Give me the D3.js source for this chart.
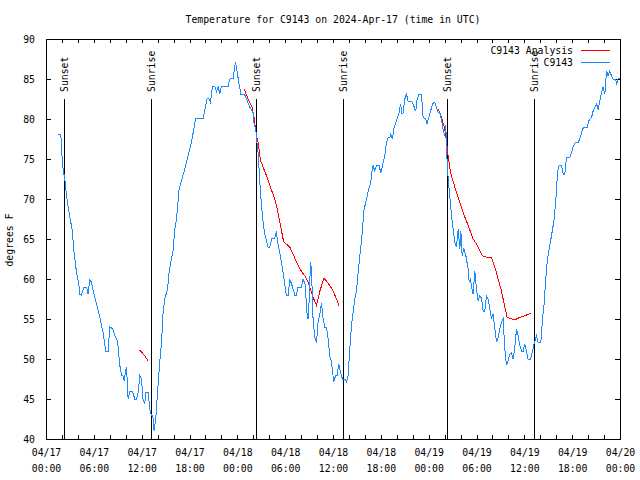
<!DOCTYPE html>
<html><head><meta charset="utf-8">
<script src="https://cdn.jsdelivr.net/npm/d3@7"></script>
<style>
html,body{margin:0;padding:0;background:#fff;}
text{font-family:"DejaVu Sans Mono",monospace;font-size:9.8px;fill:#000;}
</style>
</head><body>
<svg id="chart" width="640" height="480"></svg>
<script>
// ---- data (hours since 2024-04-17 00:00 UTC, degrees F) ----
const titleText = "Temperature for C9143 on 2024-Apr-17 (time in UTC)";
const yLabelText = "degrees F";
const seriesNames = ["C9143 Analysis", "C9143"];
const yTickValues = [40,45,50,55,60,65,70,75,80,85,90];

const stationHours = [
1.52,1.86,1.98,2.14,2.36,2.57,2.99,3.27,3.52,3.83,
4.11,4.24,4.45,4.78,5.08,5.28,5.49,5.71,5.91,6.33,
6.75,7.16,7.50,7.79,8.00,8.34,8.63,8.97,9.26,9.47,
9.63,9.80,9.97,10.10,10.30,10.51,10.85,11.14,11.35,11.55,
11.77,11.98,12.18,12.39,12.52,12.81,13.02,13.23,13.40,13.56,
13.77,13.99,14.27,14.49,14.69,14.90,15.24,15.44,15.65,15.94,
16.16,16.37,16.70,17.00,17.41,17.82,18.25,18.54,18.79,19.71,
20.01,20.21,20.42,20.63,20.89,21.17,21.39,21.59,21.80,22.01,
22.84,23.06,23.47,23.77,23.97,24.18,24.44,24.94,25.15,25.56,
25.98,26.10,26.32,26.40,26.61,26.82,27.03,27.23,27.45,27.66,
27.86,28.07,28.36,28.70,28.91,29.04,29.24,29.54,29.74,29.96,
30.17,30.37,30.58,30.79,31.00,31.21,31.42,31.62,32.05,32.25,
32.55,32.68,32.88,33.00,33.18,33.30,33.50,33.72,33.93,34.13,
34.35,34.56,34.76,34.97,35.19,35.39,35.60,35.81,36.10,36.31,
36.51,36.73,36.94,37.19,37.48,37.69,37.89,38.11,38.32,38.52,
38.73,38.95,39.15,39.36,39.58,39.70,39.86,40.20,40.49,40.74,
40.90,41.03,41.24,41.46,41.78,42.00,42.21,42.50,42.71,42.91,
43.13,43.25,43.46,43.67,43.84,44.04,44.25,44.47,44.67,44.79,
45.01,45.22,45.42,45.85,46.05,46.26,46.39,46.55,46.80,47.10,
47.30,47.64,47.80,48.14,48.48,48.77,48.98,49.18,49.40,49.61,
49.81,50.02,50.15,50.24,50.36,50.56,50.87,51.07,51.28,51.49,
51.70,51.91,52.04,52.20,52.42,52.67,52.95,53.08,53.25,53.38,
53.58,53.79,54.00,54.20,54.41,54.63,54.83,55.04,55.26,55.46,
55.67,55.88,56.08,56.30,56.51,56.71,56.92,57.13,57.34,57.55,
57.76,57.96,58.18,58.39,58.59,58.81,59.02,59.22,59.43,59.65,
59.85,60.06,60.27,60.47,60.77,61.02,61.23,61.53,61.73,62.07,
62.28,62.48,62.66,62.86,63.11,63.41,63.54,63.70,63.95,64.16,
64.36,64.67,64.87,65.08,65.29,65.70,65.92,66.12,66.42,66.75,
66.96,67.30,67.59,67.88,68.09,68.43,68.63,69.05,69.26,69.47,
69.68,69.88,70.10,70.31,70.51,70.72,70.93,71.14,71.48,71.56,
71.77,71.98
];
const stationTemps = [
78.1,78.1,75.8,73.75,72.5,70.4,67.7,66.25,63.3,60.8,
59.4,58.1,58,59,59,58.1,59.9,59.6,58.5,56.9,
55.2,53.3,51,51,54,53.8,52.9,52.3,49.2,48,
48,47.3,48.4,49,45,45.9,45.9,45,45,45.8,
47.9,47.5,44.8,44.5,45.8,45.8,43.75,42.9,42.9,41.0,
42.5,45.8,49.6,52.1,55.8,57.5,58.75,60.8,62.1,63.5,
66.25,67.5,71.25,72.3,73.75,75.4,77.1,78.75,80.1,80.1,
81.5,82.6,82.6,82.1,84.1,84.1,83.4,84.1,83.1,84.1,
84.1,85,85.1,87.1,85.9,84.6,83.1,83,82.5,81.5,
80.8,79.4,78.75,77.5,75.8,72.1,69.2,67.1,65.6,64.8,
64,64,65.1,65.1,66,64.6,63.75,62.1,60.8,59.2,
57.9,57.9,60,59.4,58.75,58,58,59,59,60,
59.2,56,55,57.1,62.1,61.25,55,52.7,52,54.6,
55.6,57,55,54,54,52.5,50.4,49.6,47.1,47.9,
47.9,49.4,48.3,47.5,47.5,47.1,47.9,51.25,54.2,55.8,
57.5,58.5,60.8,62.9,64.8,66.25,68.5,70,71.25,72.1,
73.5,74.2,73.5,74.2,74.2,73.25,74.2,75.4,77.1,77.7,
77.7,78.1,77.5,79,79.4,80,80.6,81.9,80.6,80.8,
82.5,83.1,82.2,82.2,81.9,81.25,81,82.5,83.1,83.1,
80.2,80,79.4,80.6,81.9,82.1,81.5,80.8,80.8,79.8,
78.75,77.9,79.2,76.25,73.75,71.25,67.9,66.25,64.6,64,
66.25,63.75,66,62.9,63.75,62.9,61.25,59.6,60,59,
58.1,61,58.75,57.3,57.9,57.6,56,56,57.9,57.5,
56.25,55,55.6,53.75,52.1,52.7,53.75,54.6,55,51.25,
49.2,49.8,50.6,50.8,50,51.5,53.75,52.9,51.7,51,
51,51.9,51,50,50,51,51.9,52.9,52.1,52.1,
55,56.9,59.6,62.1,63.75,65.4,66.25,67.1,69.8,73.3,
74.2,74.2,73.1,73.1,75.2,75.2,75.8,76.5,77.1,77.1,
77.5,78.75,79,79,79.8,80.2,81,81.9,81.25,82.3,
83.3,84,83.1,86,85.4,86,85.4,85,85,84.2,
85.1,85.1
];

// analysis series; null marks a gap
const analysisHours = [
11.77,12.3,12.81, null,
24.85,25.35,25.85,26.10,26.40,26.61,26.91,27.66,28.07,28.70,
28.91,29.33,29.74,29.87,30.58,31.00,31.42,31.84,32.46,32.88,
33.50,33.93,34.35,34.88,35.60,36.01,36.44,36.77, null,
49.18,49.61,50.02,50.24,50.44,50.74,51.49,52.32,52.95,53.58,
54.00,54.75,55.34,55.88,56.30,56.71,57.13,57.55,57.85,58.18,
58.81,59.43,60.06,60.81
];
const analysisTemps = [
51.1,50.5,49.8, null,
83.75,82.5,81.5,80.2,77.9,77.1,74.8,72.9,71.7,70,
69.2,67.1,65,64.6,64,63.1,62.1,61.25,60.4,59.6,
57.7,56.7,58.5,60.1,59.2,58.5,57.5,56.6, null,
81.25,80.2,78.75,77.1,75.4,73.3,70.8,68.3,66.7,65,
64.4,62.9,62.7,62.7,61.5,60,58.5,56.5,55.2,55.1,
54.9,55.2,55.4,55.75
];

const sunHours  = [2.32, 13.23, 26.40, 37.32, 50.36, 61.27];
const sunLabels = ["Sunset","Sunrise","Sunset","Sunrise","Sunset","Sunrise"];

// ---- drawing ----
const t0 = Date.UTC(2024,3,17,0,0);
const toDate = h => new Date(t0 + h*3600000);

const svg = d3.select("#chart");
svg.append("rect").attr("width",640).attr("height",480).attr("fill","#fff");

const x = d3.scaleUtc().domain([toDate(0), toDate(72)]).range([46, 620]);
const y = d3.scaleLinear().domain([40, 90]).range([439, 39]);

const stationData = stationHours.map((h,i)=>({t:toDate(h), v:stationTemps[i]}));
const analysisData = analysisHours.map((h,i)=>({t:h==null?null:toDate(h), v:analysisTemps[i]}));

const axisStyle = g => {
  g.selectAll("path.domain").attr("stroke","#000").attr("shape-rendering","crispEdges");
  g.selectAll(".tick line").attr("stroke","#000").attr("shape-rendering","crispEdges");
  g.selectAll("text").attr("fill","#000");
  g.attr("font-family",null).attr("font-size",null);
};

// bottom ticks (every 2h), inward
svg.append("g").attr("transform","translate(0,439)")
  .call(d3.axisBottom(x).ticks(d3.utcHour.every(2)).tickSize(-4).tickFormat(""))
  .call(axisStyle);
// top ticks
svg.append("g").attr("transform","translate(0,39)")
  .call(d3.axisTop(x).ticks(d3.utcHour.every(2)).tickSize(-4).tickFormat(""))
  .call(axisStyle);
// bottom labels every 6h
const fmtDay = d3.utcFormat("%m/%d"), fmtTime = d3.utcFormat("%H:%M");
const lbl = svg.append("g").attr("transform","translate(0,439)")
  .call(d3.axisBottom(x).ticks(d3.utcHour.every(6)).tickSize(0).tickFormat(""))
  .call(axisStyle);
lbl.select("path.domain").remove();
lbl.selectAll(".tick").each(function(d){
  const t = d3.select(this).select("text").attr("y",null).attr("dy",null).text(null);
  t.append("tspan").attr("x",0).attr("y",17).text(fmtDay(d));
  t.append("tspan").attr("x",0).attr("y",33).text(fmtTime(d));
});

// left/right y axes
svg.append("g").attr("transform","translate(46,0)")
  .call(d3.axisLeft(y).tickValues(yTickValues).tickSize(-5).tickPadding(11).tickFormat(d3.format("d")))
  .call(axisStyle)
  .selectAll("text").attr("dy","0.35em");
svg.append("g").attr("transform","translate(620,0)")
  .call(d3.axisRight(y).tickValues(yTickValues).tickSize(-5).tickFormat(""))
  .call(axisStyle);

// sunrise/sunset lines
const sun = svg.append("g");
sunHours.forEach((h,i)=>{
  const xs = Math.floor(x(toDate(h))) + 0.5;
  sun.append("line").attr("x1",xs).attr("x2",xs).attr("y1",99).attr("y2",439)
    .attr("stroke","#000").attr("shape-rendering","crispEdges");
  sun.append("text").attr("transform",`translate(${xs},92) rotate(-90)`)
    .attr("text-anchor","start").attr("dy","0.35em").text(sunLabels[i]);
});

// lines
const line = d3.line().defined(d=>d.t!=null && d.v!=null).x(d=>x(d.t)).y(d=>y(d.v));
svg.append("path").datum(analysisData).attr("d",line)
  .attr("fill","none").attr("stroke","#ff0000").attr("stroke-width",1)
  .attr("shape-rendering","crispEdges");
svg.append("path").datum(stationData).attr("d",line)
  .attr("fill","none").attr("stroke","#1a8cff").attr("stroke-width",1)
  .attr("shape-rendering","crispEdges");

// title and y label
svg.append("text").attr("x",333).attr("y",23).attr("text-anchor","middle").text(titleText);
svg.append("text").attr("transform","translate(10,240) rotate(-90)")
  .attr("text-anchor","middle").attr("dy","0.35em").text(yLabelText);

// legend
const legColors = ["#ff0000","#1a8cff"];
seriesNames.forEach((n,i)=>{
  const yy = 50.5 + i*12;
  svg.append("text").attr("x",573).attr("y",yy).attr("dy","0.35em").attr("text-anchor","end").text(n);
  svg.append("line").attr("x1",581).attr("x2",610).attr("y1",yy).attr("y2",yy)
    .attr("stroke",legColors[i]).attr("shape-rendering","crispEdges");
});
</script>
</body></html>
